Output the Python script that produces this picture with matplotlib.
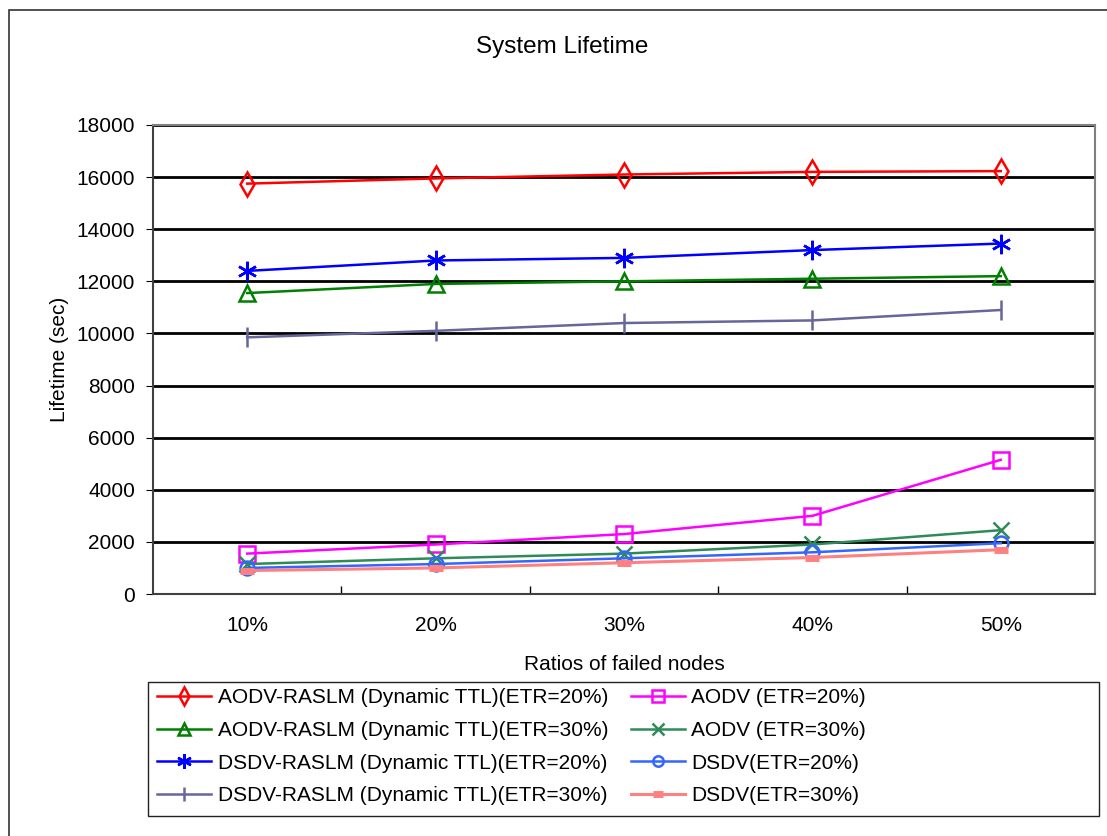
import numpy as np
import matplotlib
matplotlib.use("Agg")
import matplotlib.pyplot as plt
from matplotlib.patches import Rectangle

plt.rcParams['font.family'] = ['Liberation Sans', 'DejaVu Sans']

ratios = ['10%', '20%', '30%', '40%', '50%']

aodv_raslm_20 = [15750, 15950, 16100, 16200, 16230]
aodv_raslm_30 = [11550, 11900, 12000, 12100, 12200]
dsdv_raslm_20 = [12400, 12800, 12900, 13200, 13450]
dsdv_raslm_30 = [9850, 10100, 10400, 10500, 10900]
aodv_20 = [1550, 1900, 2300, 3000, 5150]
aodv_30 = [1150, 1370, 1550, 1900, 2450]
dsdv_20 = [1000, 1150, 1370, 1600, 1950]
dsdv_30 = [900, 1000, 1200, 1400, 1700]

# legend fills column by column: left column first, then right column
series = [
    ('AODV-RASLM (Dynamic TTL)(ETR=20%)', aodv_raslm_20, '#FF0000', 'd', 12, False),
    ('AODV-RASLM (Dynamic TTL)(ETR=30%)', aodv_raslm_30, '#008000', '^', 11, False),
    ('DSDV-RASLM (Dynamic TTL)(ETR=20%)', dsdv_raslm_20, '#0000FF', (6, 2, 0), 14, False),
    ('DSDV-RASLM (Dynamic TTL)(ETR=30%)', dsdv_raslm_30, '#666699', '|', 14, False),
    ('AODV (ETR=20%)', aodv_20, '#FF00FF', 's', 12, False),
    ('AODV (ETR=30%)', aodv_30, '#2E8B57', 'x', 11, False),
    ('DSDV(ETR=20%)', dsdv_20, '#3366FF', 'o', 10, False),
    ('DSDV(ETR=30%)', dsdv_30, '#FF8080', '_', 10, True),
]

fig = plt.figure(figsize=(11.07, 8.36), dpi=100)
W, H = 1107, 836

# outer chart border
fig.patches.append(Rectangle((9 / W, 1 - 1200 / H), 1200 / W, 1190 / H,
                             transform=fig.transFigure, fill=False,
                             edgecolor='#333333', lw=1.2))

ax = fig.add_axes([153 / W, 1 - 594 / H, (1095 - 153) / W, (594 - 125) / H])
x = np.arange(len(ratios))

handles = []
for label, vals, color, marker, ms, thick in series:
    if thick:
        h, = ax.plot(x, vals, color=color, lw=2.2, marker=marker, ms=ms,
                     mew=5, label=label)
    else:
        h, = ax.plot(x, vals, color=color, lw=1.8, marker=marker, ms=ms,
                     mfc='none', mec=color, mew=1.8, label=label)
    handles.append(h)

ax.set_xlim(-0.5, 4.5)
ax.set_ylim(0, 18000)
ax.set_yticks(np.arange(0, 18001, 2000))
ax.set_xticks(x)
ax.set_xticklabels(ratios)
ax.set_xticks(np.arange(0.5, 4, 1), minor=True)
ax.tick_params(axis='x', which='major', length=0, pad=16, labelsize=15)
ax.tick_params(axis='x', which='minor', direction='in', length=6, width=1)
ax.tick_params(axis='y', direction='out', length=5, pad=8, labelsize=15)

ax.grid(axis='y', color='black', lw=2.0)
ax.set_axisbelow(True)
for s in ['top', 'right']:
    ax.spines[s].set_color('#808080')
    ax.spines[s].set_linewidth(1.5)
for s in ['left', 'bottom']:
    ax.spines[s].set_color('#404040')
    ax.spines[s].set_linewidth(1.5)

ax.set_xlabel('Ratios of failed nodes', fontsize=15, labelpad=14)
ax.set_ylabel('Lifetime (sec)', fontsize=15, labelpad=5)
fig.text(562 / W, 1 - 47 / H, 'System Lifetime', fontsize=17.5,
         ha='center', va='center')

# legend box
fig.patches.append(Rectangle((148 / W, 1 - 816 / H), (1099 - 148) / W,
                             (816 - 682) / H, transform=fig.transFigure,
                             fill=False, edgecolor='#222222', lw=1.0))
fig.legend(handles=handles, ncol=2, loc='upper left',
           bbox_to_anchor=(155 / W, 1 - 686 / H), frameon=False,
           fontsize=15, handlelength=2.6, handletextpad=0.3,
           labelspacing=0.66, columnspacing=1.1, borderaxespad=0,
           borderpad=0.1, markerscale=0.75)

fig.savefig('out.png', dpi=100)
